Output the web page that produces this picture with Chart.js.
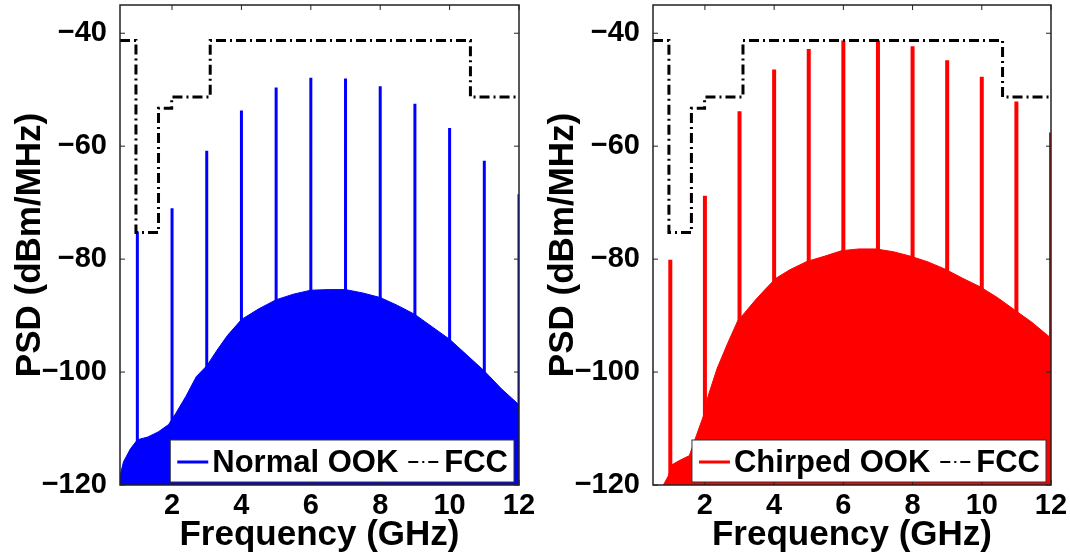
<!DOCTYPE html>
<html>
<head>
<meta charset="utf-8">
<script src="https://cdn.jsdelivr.net/npm/chart.js@4.4.1/dist/chart.umd.min.js"></script>
<style>
  html, body { margin: 0; padding: 0; background: #fff; }
  #wrap { position: relative; width: 1070px; height: 558px; overflow: hidden; }
  canvas { position: absolute; top: 0; }
  #chartNormal { left: 0; }
  #chartChirped { left: 533px; }
</style>
</head>
<body>
<div id="wrap">
  <canvas id="chartNormal" width="536" height="558"></canvas>
  <canvas id="chartChirped" width="535" height="558"></canvas>
</div>
<script>
// ─── Data ─────────────────────────────────────────────────────────────────────
const xTicks = [2, 4, 6, 8, 10, 12];
const yTicks = [-120, -100, -80, -60, -40];

// FCC indoor UWB mask, GHz / dBm/MHz
const fccFreq  = [0.5, 0.96, 0.96, 1.61, 1.61, 1.99, 1.99, 3.1, 3.1, 10.6, 10.6, 12];
const fccLevel = [-41.3, -41.3, -75.3, -75.3, -53.3, -53.3, -51.3, -51.3, -41.3, -41.3, -51.3, -51.3];

// spectral lines at every GHz
const toneFreq       = [1, 2, 3, 4, 5, 6, 7, 8, 9, 10, 11, 12];
const normalTonePeak = [-75.1, -71.0, -60.8, -53.7, -49.6, -47.9, -48.0, -49.4, -52.5, -56.8, -62.6, -68.5];
const chirpTonePeak  = [-80.1, -68.8, -53.8, -46.4, -42.8, -41.3, -41.3, -42.3, -44.8, -47.7, -52.1, -57.6];

// continuous part (upper edge of the filled spectrum)
const normalFloorFreq = [0.5, 0.6, 0.8, 1.0, 1.3, 1.6, 1.9, 2.1, 2.4, 2.7, 3.0, 3.3, 3.6, 4.0, 4.5,
                         5.0, 5.5, 6.0, 6.5, 7.0, 7.5, 8.0, 8.5, 9.0, 9.5, 10.0, 10.5, 11.0, 11.5, 12.0];
const normalFloor     = [-118.4, -115.9, -113.6, -112.0, -111.5, -110.6, -109.3, -107.4, -104.3, -100.8,
                         -98.9, -96.1, -93.5, -90.7, -88.8, -87.2, -86.2, -85.5, -85.4, -85.4,
                         -86.0, -86.8, -88.2, -89.8, -92.0, -94.2, -97.0, -99.8, -103.0, -105.8];

const chirpFloorFreq = [0.8, 0.95, 1.05, 1.25, 1.55, 1.75, 1.95, 2.1, 2.35, 2.65, 2.95, 3.15, 3.45, 3.75,
                        4.05, 4.45, 4.95, 5.45, 5.95, 6.45, 6.95, 7.45, 7.95, 8.45, 8.95, 9.45, 9.95,
                        10.45, 10.95, 11.45, 12.0];
const chirpFloor     = [-120, -118.3, -116.4, -115.7, -114.8, -111.3, -107.9, -104.1, -99.4, -95.0, -90.9,
                        -89.5, -87.3, -85.3, -83.4, -81.9, -80.4, -79.5, -78.5, -78.2, -78.2, -78.7,
                        -79.5, -80.5, -81.8, -83.4, -84.9, -86.8, -89.0, -91.2, -94.0];

// ─── Style ────────────────────────────────────────────────────────────────────
const FONT = '"Liberation Sans", Arial, Helvetica, sans-serif';
const FCC_DASH = [10, 4, 2, 4];

// ─── Plugins ──────────────────────────────────────────────────────────────────
// box frame with inward ticks on all four sides (matlab look)
const framePlugin = {
  id: 'frame',
  afterDatasetsDraw(chart) {
    const { ctx, chartArea: a, scales: { x, y } } = chart;
    ctx.save();
    ctx.strokeStyle = '#222';
    ctx.lineWidth = 1.5;
    ctx.strokeRect(a.left, a.top, a.right - a.left, a.bottom - a.top);
    ctx.lineWidth = 1;
    ctx.beginPath();
    xTicks.forEach(v => {
      const px = x.getPixelForValue(v);
      ctx.moveTo(px, a.bottom); ctx.lineTo(px, a.bottom - 5);
      ctx.moveTo(px, a.top);    ctx.lineTo(px, a.top + 5);
    });
    yTicks.forEach(v => {
      const py = y.getPixelForValue(v);
      ctx.moveTo(a.left, py);  ctx.lineTo(a.left + 5, py);
      ctx.moveTo(a.right, py); ctx.lineTo(a.right - 5, py);
    });
    ctx.stroke();
    ctx.restore();
  },
};

// legend box sitting in the lower right corner of the plot
const insetLegend = {
  id: 'insetLegend',
  afterDraw(chart, args, opts) {
    const { ctx, chartArea: a } = chart;
    ctx.save();
    ctx.font = `bold 31px ${FONT}`;
    const w1 = ctx.measureText(opts.label).width;
    const w2 = ctx.measureText('FCC').width;
    const boxW = 7 + 31 + 4 + w1 + 10 + 33 + 3 + w2 + 6;
    const right = a.right - 5, bottom = a.bottom - 3, top = bottom - 42;
    const left = right - boxW;
    const cy = (top + bottom) / 2 + 1;

    ctx.fillStyle = '#fff';
    ctx.fillRect(left, top, boxW, bottom - top);
    ctx.strokeStyle = '#333';
    ctx.lineWidth = 1;
    ctx.strokeRect(left, top, boxW, bottom - top);

    ctx.strokeStyle = opts.color;
    ctx.lineWidth = 3;
    ctx.beginPath();
    ctx.moveTo(left + 7, cy); ctx.lineTo(left + 38, cy);
    ctx.stroke();

    ctx.fillStyle = '#000';
    ctx.textBaseline = 'middle';
    ctx.fillText(opts.label, left + 42, cy + 1);

    const x0 = left + 42 + w1 + 10;
    ctx.strokeStyle = '#000';
    ctx.lineWidth = 2;
    ctx.setLineDash(FCC_DASH);
    ctx.beginPath();
    ctx.moveTo(x0, cy); ctx.lineTo(x0 + 33, cy);
    ctx.stroke();
    ctx.setLineDash([]);
    ctx.fillText('FCC', x0 + 36, cy + 1);
    ctx.restore();
  },
};

// ─── Chart builder ────────────────────────────────────────────────────────────
function toneSegments(peaks) {
  const pts = [];
  toneFreq.forEach((f, i) => {
    pts.push({ x: f, y: -120 }, { x: f, y: peaks[i] }, { x: f, y: null });
  });
  return pts;
}

function makeChart(id, color, label, floorFreq, floorVal, peaks, toneWidth) {
  const ctx = document.getElementById(id).getContext('2d');
  return new Chart(ctx, {
    type: 'line',
    data: {
      datasets: [
        {
          label: 'FCC',
          data: fccFreq.map((f, i) => ({ x: f, y: fccLevel[i] })),
          borderColor: '#000',
          borderWidth: 3,
          borderDash: FCC_DASH,
          pointRadius: 0,
          fill: false,
        },
        {
          label: label + ' lines',
          data: toneSegments(peaks),
          borderColor: color,
          borderWidth: toneWidth,
          pointRadius: 0,
          spanGaps: false,
          fill: false,
        },
        {
          label: label,
          data: floorFreq.map((f, i) => ({ x: f, y: floorVal[i] })),
          borderColor: color,
          backgroundColor: color,
          borderWidth: 1,
          pointRadius: 0,
          fill: 'start',
        },
      ],
    },
    options: {
      responsive: false,
      animation: false,
      events: [],
      layout: { padding: { top: 5, right: 17, bottom: 0, left: 0 } },
      plugins: {
        legend: { display: false },
        tooltip: { enabled: false },
        insetLegend: { label, color },
      },
      scales: {
        x: {
          type: 'linear',
          min: 0.5,
          max: 12,
          afterBuildTicks: a => { a.ticks = xTicks.map(v => ({ value: v })); },
          afterFit: a => { a.height = 73; a.paddingLeft = 0; a.paddingRight = 0; },
          grid: { display: false },
          border: { display: false },
          ticks: { color: '#000', font: { family: FONT, size: 29, weight: 'bold' }, padding: -4, maxRotation: 0, autoSkip: false },
          title: {
            display: true, text: 'Frequency (GHz)', color: '#000',
            font: { family: FONT, size: 35, weight: 'bold' }, padding: { top: 0, bottom: 2 },
          },
        },
        y: {
          type: 'linear',
          min: -120,
          max: -35,
          afterBuildTicks: a => { a.ticks = yTicks.map(v => ({ value: v })); },
          afterFit: a => { a.width = 120; a.paddingTop = 0; a.paddingBottom = 0; },
          grid: { display: false },
          border: { display: false },
          ticks: {
            color: '#000', font: { family: FONT, size: 29, weight: 'bold' }, padding: 5,
            callback: v => String(v).replace('-', '\u2212'),
          },
          title: {
            display: true, text: 'PSD (dBm/MHz)', color: '#000',
            font: { family: FONT, size: 35, weight: 'bold' }, padding: { top: 9, bottom: 0 },
          },
        },
      },
    },
    plugins: [framePlugin, insetLegend],
  });
}

// ─── Bootstrap ────────────────────────────────────────────────────────────────
makeChart('chartNormal', '#0000ff', 'Normal OOK', normalFloorFreq, normalFloor, normalTonePeak, 3);
makeChart('chartChirped', '#ff0000', 'Chirped OOK', chirpFloorFreq, chirpFloor, chirpTonePeak, 4);
</script>
</body>
</html>
